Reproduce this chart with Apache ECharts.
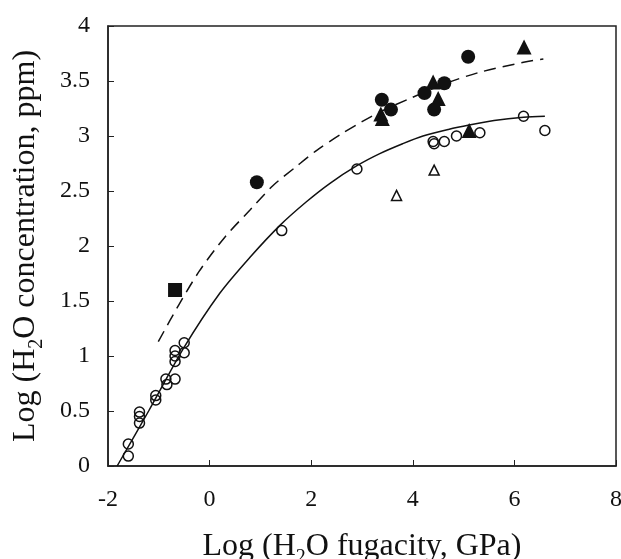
<!DOCTYPE html>
<html><head><meta charset="utf-8">
<script src="https://cdn.jsdelivr.net/npm/echarts@6/dist/echarts.min.js"></script>
<style>html,body{margin:0;padding:0;background:#fff}#c{width:621px;height:559px}</style>
</head><body><div id="c"></div>
<script>
const openCircles = [[-1.60,0.20],[-1.60,0.09],[-1.38,0.49],[-1.38,0.45],[-1.38,0.39],[-1.06,0.64],[-1.06,0.60],[-0.86,0.79],[-0.84,0.74],[-0.68,0.79],[-0.68,1.05],[-0.68,1.00],[-0.68,0.95],[-0.50,1.12],[-0.50,1.03],[1.42,2.14],[2.90,2.70],[4.40,2.95],[4.42,2.93],[4.62,2.95],[4.86,3.00],[5.32,3.03],[6.18,3.18],[6.60,3.05]];
const filledCircles = [[0.93,2.58],[3.39,3.33],[3.57,3.24],[4.23,3.39],[4.42,3.24],[4.62,3.48],[5.09,3.72]];
const filledTriangles = [[3.37,3.20],[3.40,3.16],[4.40,3.49],[4.50,3.34],[5.11,3.05],[6.19,3.81]];
const openTriangles = [[3.68,2.46],[4.42,2.69]];
const squares = [[-0.68,1.60]];
const solidX = [-1.82,-1.2,-0.5,0.2,0.8,1.39,1.9,2.37,2.9,3.35,3.8,4.2,4.7,5.11,5.6,6.18,6.6];
const solidY = [0,0.5,1.08,1.57,1.9,2.19,2.4,2.57,2.73,2.84,2.93,3.0,3.06,3.10,3.14,3.17,3.18];
const dashedX = [-1.01,-0.6,-0.19,0.3,0.8,1.25,1.7,2.11,2.6,3.0,3.4,3.94,4.6,5.32,6.18,6.57];
const dashedY = [1.13,1.47,1.78,2.08,2.33,2.55,2.72,2.87,3.02,3.13,3.23,3.34,3.47,3.58,3.67,3.70];

const zip = (xs, ys) => xs.map((x, i) => [x, ys[i]]);
const serif = '"Liberation Serif","DejaVu Serif",serif';
const rich = {
  a: {fontFamily: serif, fontSize: 32, color: '#111', lineHeight: 36, verticalAlign: 'bottom'},
  s: {fontFamily: serif, fontSize: 20, color: '#111', lineHeight: 36, verticalAlign: 'bottom', padding: [0,0,-5,0]}
};
const chart = echarts.init(document.getElementById('c'));
chart.setOption({
  animation: false,
  grid: {left: 108, right: 5, top: 26, bottom: 93, show: true, borderColor: '#222', borderWidth: 1.5, outerBoundsMode: 'none', containLabel: false},
  xAxis: {
    type: 'value', min: -2, max: 8, interval: 2,
    axisLine: {show: true, onZero: false, lineStyle: {color: '#222', width: 1.5}},
    axisTick: {show: true, inside: true, length: 6, lineStyle: {color: '#222'}},
    splitLine: {show: false},
    axisLabel: {fontFamily: serif, fontSize: 24, color: '#111', margin: 22},
    name: '{a|Log (H}{s|2}{a|O fugacity, GPa)}',
    nameLocation: 'middle', nameGap: 61,
    nameTextStyle: {rich: rich}
  },
  yAxis: {
    type: 'value', min: 0, max: 4, interval: 0.5,
    axisLine: {show: true, onZero: false, lineStyle: {color: '#222', width: 1.5}},
    axisTick: {show: true, inside: true, length: 6, lineStyle: {color: '#222'}},
    splitLine: {show: false},
    axisLabel: {fontFamily: serif, fontSize: 24, color: '#111', margin: 18},
    name: '{a|Log (H}{s|2}{a|O concentration, ppm)}',
    nameLocation: 'middle', nameGap: 66, nameRotate: 90,
    nameTextStyle: {rich: rich}
  },
  series: [
    {type: 'line', data: zip(solidX, solidY), smooth: 0.3, symbol: 'none', lineStyle: {color: '#111', width: 1.5}, z: 2},
    {type: 'line', data: zip(dashedX, dashedY), smooth: 0.3, symbol: 'none', lineStyle: {color: '#111', width: 1.5, type: [12, 7]}, z: 2},
    {type: 'scatter', data: openCircles, symbol: 'circle', symbolSize: 10, itemStyle: {color: 'rgba(255,255,255,0)', borderColor: '#111', borderWidth: 1.5, opacity: 1}, z: 3},
    {type: 'scatter', data: openTriangles, symbol: 'triangle', symbolSize: 10, itemStyle: {color: 'rgba(255,255,255,0)', borderColor: '#111', borderWidth: 1.5, opacity: 1}, z: 3},
    {type: 'scatter', data: filledCircles, symbol: 'circle', symbolSize: 14, itemStyle: {color: '#111', opacity: 1}, z: 4},
    {type: 'scatter', data: filledTriangles, symbol: 'triangle', symbolSize: 15, itemStyle: {color: '#111', opacity: 1}, z: 4},
    {type: 'scatter', data: squares, symbol: 'rect', symbolSize: 14, itemStyle: {color: '#111', opacity: 1}, z: 4}
  ]
});
</script></body></html>
